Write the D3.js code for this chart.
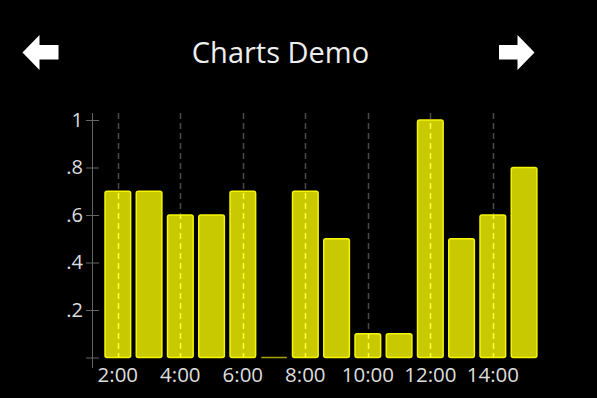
<!DOCTYPE html>
<html>
<head>
<meta charset="utf-8">
<script src="https://cdn.jsdelivr.net/npm/d3@7"></script>
<style>
  html, body { margin: 0; padding: 0; background: #000; }
  svg { display: block; font-family: "Open Sans", sans-serif; }
</style>
</head>
<body>
<script>
// hourly values
var hours = ["2:00","3:00","4:00","5:00","6:00","7:00","8:00","9:00","10:00","11:00","12:00","13:00","14:00","15:00"];
var values = [0.7, 0.7, 0.6, 0.6, 0.7, 0, 0.7, 0.5, 0.1, 0.1, 1.0, 0.5, 0.6, 0.8];
var xTickLabels = ["2:00","4:00","6:00","8:00","10:00","12:00","14:00"];
var yTicks = [0, 0.2, 0.4, 0.6, 0.8, 1];

var svg = d3.select('body').append('svg')
  .attr('width', 597)
  .attr('height', 398);

svg.append('rect').attr('width', 597).attr('height', 398).attr('fill', '#000');

// title + nav arrows
svg.append('text')
  .attr('x', 280.5)
  .attr('y', 63)
  .attr('text-anchor', 'middle')
  .attr('fill', '#eeeeee')
  .attr('font-size', 29)
  .text('Charts Demo');

svg.append('path')
  .attr('d', 'M22.5,52.5 L39.5,35 L39.5,45 L58.5,45 L58.5,59.5 L39.5,59.5 L39.5,70 Z')
  .attr('fill', '#fff');
svg.append('path')
  .attr('d', 'M534.5,52.5 L517.5,35 L517.5,45 L499,45 L499,59.5 L517.5,59.5 L517.5,70 Z')
  .attr('fill', '#fff');

var x = d3.scaleBand()
  .domain(hours)
  .range([102.2, 539.7])
  .paddingInner(0.18)
  .paddingOuter(0.09);

var y = d3.scaleLinear()
  .domain([0, 1])
  .range([357.5, 120]);

var gridTop = 113;

// dashed gridlines behind bars
svg.append('g').selectAll('line')
  .data(xTickLabels)
  .join('line')
  .attr('x1', function(d){ return Math.round(x(d) + x.bandwidth() / 2) + 0.5; })
  .attr('x2', function(d){ return Math.round(x(d) + x.bandwidth() / 2) + 0.5; })
  .attr('y1', gridTop)
  .attr('y2', y(0))
  .attr('stroke', '#4a4a4a')
  .attr('stroke-width', 1.5)
  .attr('stroke-dasharray', '6,4');

// bars (zero values still get a thin line at the baseline)
svg.append('g').selectAll('rect')
  .data(values)
  .join('rect')
  .attr('x', function(d, i){ return x(hours[i]); })
  .attr('y', function(d){ return d > 0 ? y(d) : y(0) - 0.75; })
  .attr('width', x.bandwidth())
  .attr('height', function(d){ return d > 0 ? y(0) - y(d) : 1.5; })
  .attr('rx', function(d){ return d > 0 ? 2 : 0; })
  .attr('fill', function(d){ return d > 0 ? '#c9c900' : '#a8a200'; })
  .attr('stroke', function(d){ return d > 0 ? '#f5f500' : 'none'; })
  .attr('stroke-width', 1.5);

// gridline dashes showing through the bars
var clip = svg.append('clipPath').attr('id', 'barclip');
clip.selectAll('rect')
  .data(values)
  .join('rect')
  .attr('x', function(d, i){ return x(hours[i]); })
  .attr('y', function(d){ return y(d); })
  .attr('width', x.bandwidth())
  .attr('height', function(d){ return y(0) - y(d); });

svg.append('g').attr('clip-path', 'url(#barclip)').selectAll('line')
  .data(xTickLabels)
  .join('line')
  .attr('x1', function(d){ return Math.round(x(d) + x.bandwidth() / 2) + 0.5; })
  .attr('x2', function(d){ return Math.round(x(d) + x.bandwidth() / 2) + 0.5; })
  .attr('y1', gridTop)
  .attr('y2', y(0))
  .attr('stroke', '#ffff40')
  .attr('stroke-width', 1.5)
  .attr('stroke-dasharray', '6,4');

// y axis
var fmt = function(d){ return d === 0 ? '' : d === 1 ? '1' : d3.format('.1f')(d).replace(/^0/, ''); };
var yAxis = svg.append('g')
  .attr('transform', 'translate(92.5,0)')
  .call(d3.axisLeft(y).tickValues(yTicks).tickFormat(fmt).tickSize(6.5).tickPadding(3));
yAxis.select('.domain').remove();
yAxis.append('line')
  .attr('x1', 0).attr('x2', 0)
  .attr('y1', gridTop).attr('y2', 368)
  .attr('stroke', '#666');
yAxis.selectAll('.tick line')
  .attr('x1', 6.5)
  .attr('stroke', '#666');
yAxis.selectAll('.tick text')
  .attr('fill', '#dddddd')
  .attr('font-size', 20)
  .attr('font-family', '"Open Sans", sans-serif');

// x axis labels
var xAxis = svg.append('g')
  .attr('transform', 'translate(0,' + y(0) + ')')
  .call(d3.axisBottom(x).tickValues(xTickLabels).tickSize(0).tickPadding(9.5));
xAxis.select('.domain').remove();
xAxis.selectAll('.tick text')
  .attr('fill', '#dddddd')
  .attr('font-size', 20.5)
  .attr('font-family', '"Open Sans", sans-serif');
</script>
</body>
</html>
